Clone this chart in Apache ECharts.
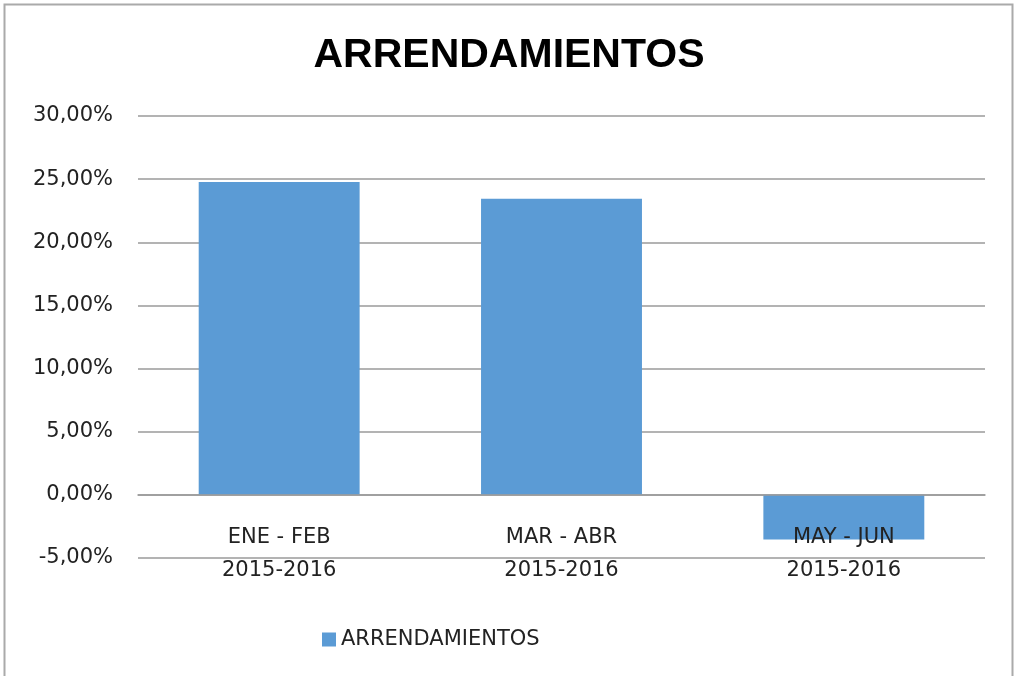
<!DOCTYPE html>
<html>
<head>
<meta charset="utf-8">
<title>ARRENDAMIENTOS</title>
<script src="https://cdn.jsdelivr.net/npm/echarts@6/dist/echarts.min.js"></script>
<style>
  html, body { margin: 0; padding: 0; background: #fff; }
  #chart { width: 1018px; height: 676px; }
</style>
</head>
<body>
<div id="chart"></div>
<script>
// datos del grafico
const categories = ['ENE - FEB\n2015-2016', 'MAR - ABR\n2015-2016', 'MAY - JUN\n2015-2016']
const arrendamientos = [24.77, 23.45, -3.54]
const yTicks = { min: -5, max: 30, interval: 5 }

const chart = echarts.init(document.getElementById('chart'))

const option = {
  backgroundColor: '#fff',
  animation: false,
  title: {
    text: 'ARRENDAMIENTOS',
    left: 'center',
    top: 30,
    textStyle: {
      fontFamily: 'Liberation Sans',
      fontSize: 41,
      fontWeight: 'bold',
      color: '#000'
    }
  },
  graphic: [{
    type: 'rect',
    shape: { x: 4.5, y: 4.5, width: 1008, height: 700 },
    style: { fill: 'none', stroke: '#aaaaaa', lineWidth: 2 },
    silent: true
  }],
  legend: {
    data: ['ARRENDAMIENTOS'],
    left: 317,
    top: 624,
    icon: 'rect',
    itemWidth: 14,
    itemHeight: 14,
    itemGap: 8,
    textStyle: {
      fontFamily: 'DejaVu Sans',
      fontSize: 21,
      color: '#222'
    }
  },
  grid: {
    left: 138,
    right: 33,
    top: 116,
    bottom: 118,
    containLabel: false
  },
  xAxis: {
    type: 'category',
    data: categories,
    z: 10,
    // el eje va en el cero, con las etiquetas debajo
    offset: -63,
    axisLine: { show: true, onZero: false, lineStyle: { color: '#9a9a9a', width: 1.5 } },
    axisTick: { show: false },
    axisLabel: {
      margin: 26,
      fontFamily: 'DejaVu Sans',
      fontSize: 21,
      lineHeight: 33,
      color: '#222'
    }
  },
  yAxis: {
    type: 'value',
    min: yTicks.min,
    max: yTicks.max,
    interval: yTicks.interval,
    axisLine: { show: false },
    axisTick: { show: false },
    splitLine: { lineStyle: { color: '#9a9a9a', width: 1.5 } },
    axisLabel: {
      margin: 25,
      fontFamily: 'DejaVu Sans',
      fontSize: 21,
      color: '#222',
      formatter: v => v.toFixed(2).replace('.', ',') + '%'
    }
  },
  series: [{
    name: 'ARRENDAMIENTOS',
    type: 'bar',
    data: arrendamientos,
    barCategoryGap: '43%',
    itemStyle: { color: '#5b9bd5' }
  }]
}

chart.setOption(option)
window.addEventListener('resize', () => chart.resize())
</script>
</body>
</html>
